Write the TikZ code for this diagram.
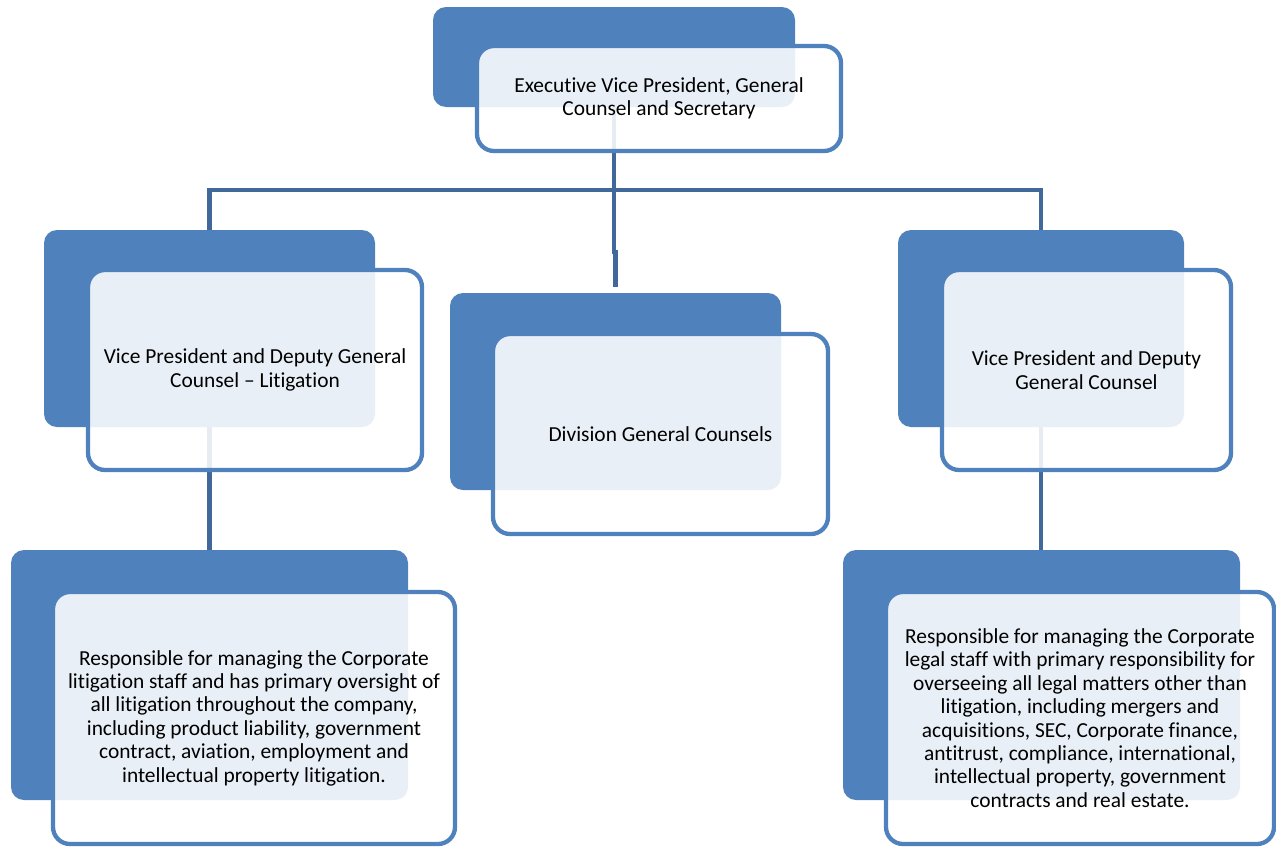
\documentclass[tikz,border=0pt]{standalone}
\usepackage{fontspec}
\setmainfont{Carlito}[Ligatures={TeX,NoCommon}]
\usetikzlibrary{positioning,backgrounds}
\definecolor{boxblue}{RGB}{79,129,189}
\definecolor{linkblue}{RGB}{65,104,155}
\tikzset{
  back/.style={rectangle, rounded corners=13pt, fill=boxblue, inner sep=0pt, outer sep=0pt, anchor=north west},
  front/.style={rectangle, rounded corners=17pt, draw=boxblue, line width=4.3pt, fill=white, fill opacity=0.88, text opacity=1, inner sep=0pt, outer sep=0pt, anchor=north west, align=center, font=\fontsize{21.4}{23.4}\selectfont},
  link/.style={draw=linkblue, line width=4.8pt}
}

\begin{document}
\begin{tikzpicture}[x=1pt,y=-1pt]
\useasboundingbox (0,0) rectangle (1276,846);

% back boxes
\node[back, minimum width=362pt, minimum height=100pt] (evpBack) at (433,7) {};
\node[back, minimum width=331pt, minimum height=197pt] (litBack) at (44,230) {};
\node[back, minimum width=331pt, minimum height=197pt] (divBack) at (450,293) {};
\node[back, minimum width=286pt, minimum height=197pt] (genBack) at (898,230) {};
\node[back, minimum width=397pt, minimum height=250pt] (respLitBack) at (11,550) {};
\node[back, minimum width=397pt, minimum height=250pt] (respGenBack) at (843,550) {};

% connectors
\coordinate (bus) at (0,190);
\begin{scope}[on background layer]
\draw[link] (evpBack.center) -- (evpBack.center |- bus) -| (litBack.center);
\draw[link] (evpBack.center |- bus) -| (genBack.center);
\draw[link] (evpBack.center) -- (evpBack.center |- 0,252) -| ([yshift=6pt]divBack.north);
\draw[link] (litBack.center) -- (respLitBack.center);
\draw[link] (genBack.center) -- (genBack.center |- respGenBack.center);
\end{scope}

% front boxes
\node[front, minimum width=364pt, minimum height=105pt] (evp) at ([shift={(44,39)}]evpBack.north west)
  {Executive Vice President, General\\Counsel and Secretary};
\node[front, minimum width=334pt, minimum height=200pt] (lit) at ([shift={(44,40)}]litBack.north west)
  {Vice President and Deputy General\\Counsel -- Litigation};
\node[front, minimum width=335pt, minimum height=200pt] (div) at ([shift={(43,41)}]divBack.north west)
  {Division General Counsels};
\node[front, minimum width=289pt, minimum height=200pt] (gen) at ([shift={(44,40)}]genBack.north west)
  {Vice President and Deputy\\General Counsel};
\node[front, minimum width=402pt, minimum height=252pt] (respLit) at ([shift={(42,42)}]respLitBack.north west)
  {Responsible for managing the Corporate\\litigation staff and has primary oversight of\\all litigation throughout the company,\\including product liability, government\\contract, aviation, employment and\\intellectual property litigation.};
\node[front, minimum width=388pt, minimum height=252pt] (respGen) at ([shift={(43,42)}]respGenBack.north west)
  {Responsible for managing the Corporate\\legal staff with primary responsibility for\\overseeing all legal matters other than\\litigation, including mergers and\\acquisitions, SEC, Corporate finance,\\antitrust, compliance, international,\\intellectual property, government\\contracts and real estate.};
\end{tikzpicture}
\end{document}
